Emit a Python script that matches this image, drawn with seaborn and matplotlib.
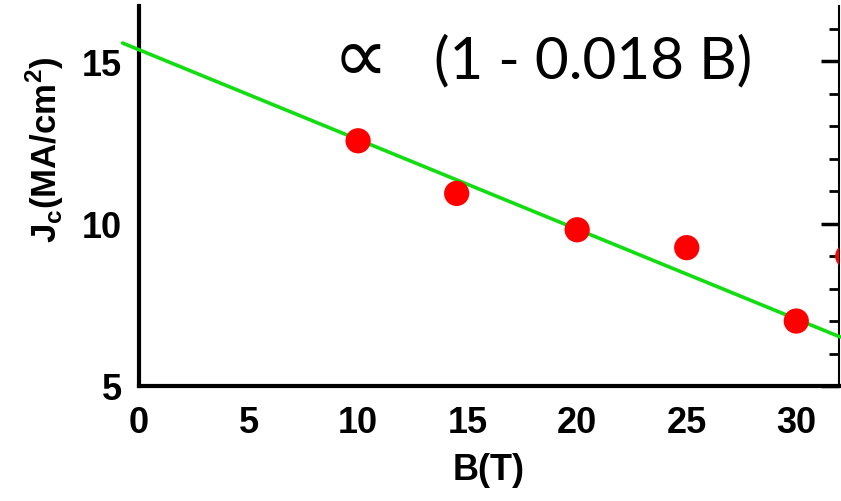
import matplotlib
matplotlib.use("Agg")
import matplotlib.pyplot as plt
import seaborn as sns
import pandas as pd
from matplotlib.ticker import MultipleLocator

# data
B_points = [10.0, 14.5, 20.0, 25.0, 30.0, 32.35]
Jc_points = [12.55, 10.93, 9.81, 9.26, 7.0, 9.0]
fit_B = [-0.75, 32.0]
fit_J = [15.56, 6.51]
x_ticks = [0, 5, 10, 15, 20, 25, 30]
y_ticks = [5, 10, 15]

sns.set_style("white")
plt.rcParams['font.family'] = ['Liberation Sans', 'DejaVu Sans']
plt.rcParams['text.color'] = 'black'
plt.rcParams['axes.labelcolor'] = 'black'

fig = plt.figure(figsize=(8.41, 5.02), dpi=100)
ax = fig.add_axes([139/841, 1-387/502, 700/841, 380/502])

pts = pd.DataFrame({"B": B_points, "Jc": Jc_points})
fit = pd.DataFrame({"B": fit_B, "Jc": fit_J})

sns.lineplot(data=fit, x="B", y="Jc", ax=ax, color="#11dd11", lw=2.6,
             zorder=3, clip_on=False)
sns.scatterplot(data=pts, x="B", y="Jc", ax=ax, color="#ff0000", s=330,
                edgecolor="none", zorder=4)

ax.set_xlim(0, 31.95)
ax.set_ylim(5, 16.7)
ax.set_xticks(x_ticks)
ax.set_yticks(y_ticks)
ax.xaxis.set_minor_locator(MultipleLocator(1))
ax.yaxis.set_minor_locator(MultipleLocator(1))

for s in ["left", "bottom"]:
    ax.spines[s].set_linewidth(3)
    ax.spines[s].set_color("black")
ax.spines["right"].set_linewidth(1.5)
ax.spines["right"].set_color("black")
ax.spines["top"].set_visible(False)

ax.tick_params(axis="both", which="both", direction="in", colors="black")
ax.tick_params(axis="y", which="major", length=13, width=2.5, right=True,
               labelsize=26, pad=12)
ax.tick_params(axis="y", which="minor", length=7, width=2, right=True)
ax.tick_params(axis="x", which="major", length=6, width=2, labelsize=26, pad=14)
ax.tick_params(axis="x", which="minor", length=6, width=2)
for lab in ax.get_xticklabels() + ax.get_yticklabels():
    lab.set_fontweight("bold")

ax.set_xlabel("B(T)", fontsize=26, fontweight="bold", labelpad=8, color="black")
ax.set_ylabel("")
fig.text(45/841, 1-150/502, r"J$_\mathregular{c}$(MA/cm$^\mathregular{2}$)",
         rotation=90, fontsize=25, fontweight="bold", ha="center", va="center",
         color="black")

fig.text(360/841, 1-60/502, "\u221d", fontsize=56,
         family=["DejaVu Sans"], ha="center", va="center", color="black")
fig.text(593/841, 1-62/502, "(1 - 0.018 B)", fontsize=42,
         family=["Lato", "DejaVu Sans"], ha="center", va="center", color="black")

fig.savefig("out.png", dpi=100)
